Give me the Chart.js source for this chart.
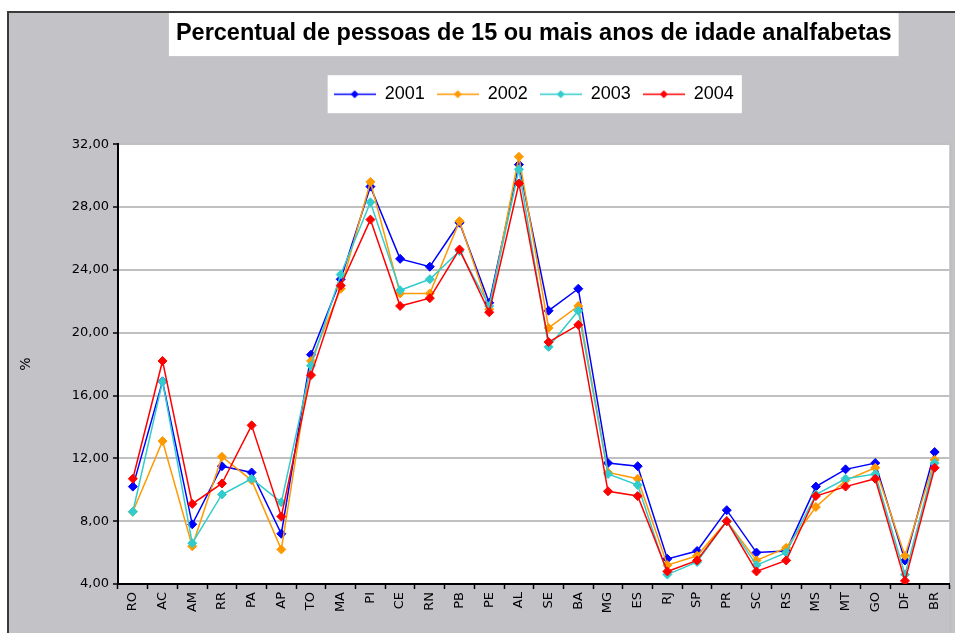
<!DOCTYPE html>
<html lang="pt">
<head>
    <meta charset="UTF-8">
    <title>Percentual de pessoas de 15 ou mais anos de idade analfabetas</title>
    <script src="https://cdn.jsdelivr.net/npm/chart.js"></script>
    <style>
        body { margin: 0; background: #fff; }
        canvas { display: block; }
    </style>
</head>
<body>
    <canvas id="grafico" width="955" height="633"></canvas>

    <script>
        // Dados
        const estados = ['RO','AC','AM','RR','PA','AP','TO','MA','PI','CE','RN','PB','PE','AL','SE','BA','MG','ES','RJ','SP','PR','SC','RS','MS','MT','GO','DF','BR'];
        const anos = ['2001', '2002', '2003', '2004'];
        const valores2001 = [10.2, 16.9, 7.8, 11.5, 11.1, 7.2, 18.6, 23.4, 29.3, 24.7, 24.2, 27.0, 21.9, 30.7, 21.4, 22.8, 11.7, 11.5, 5.6, 6.1, 8.7, 6.0, 6.1, 10.2, 11.3, 11.7, 5.5, 12.4];
        const valores2002 = [8.6, 13.1, 6.4, 12.1, 10.6, 6.2, 18.2, 22.8, 29.6, 22.5, 22.5, 27.1, 21.5, 31.2, 20.3, 21.7, 11.1, 10.7, 5.2, 5.8, 8.0, 5.5, 6.3, 8.9, 10.6, 11.4, 5.8, 11.9];
        const valores2003 = [8.6, 16.9, 6.6, 9.7, 10.7, 9.2, 17.9, 23.7, 28.3, 22.7, 23.4, 25.2, 21.7, 30.4, 19.1, 21.4, 11.0, 10.3, 4.6, 5.4, 8.0, 5.2, 6.0, 9.7, 10.7, 11.0, 4.6, 11.7];
        const valores2004 = [10.7, 18.2, 9.1, 10.4, 14.1, 8.3, 17.3, 23.0, 27.2, 21.7, 22.2, 25.3, 21.3, 29.5, 19.4, 20.5, 9.9, 9.6, 4.8, 5.5, 8.0, 4.8, 5.5, 9.6, 10.2, 10.7, 4.2, 11.4];
        const yMin = 4, yMax = 32, yPasso = 4;

        const series = [valores2001, valores2002, valores2003, valores2004];
        const cores = ['#0000ff', '#ff9900', '#33cccc', '#ff0000'];
        const fonteEixo = 'DejaVu Sans';

        // amostra da legenda: linha com losango
        function amostra(cor) {
            const c = document.createElement('canvas');
            c.width = 42; c.height = 11;
            const g = c.getContext('2d');
            g.strokeStyle = cor; g.lineWidth = 1.5;
            g.beginPath(); g.moveTo(0, 5.5); g.lineTo(42, 5.5); g.stroke();
            g.fillStyle = cor;
            g.beginPath(); g.moveTo(21, 1.5); g.lineTo(25, 5.5); g.lineTo(21, 9.5); g.lineTo(17, 5.5); g.closePath(); g.fill();
            return c;
        }

        // fundo cinza, caixas brancas do titulo e da legenda
        const moldura = {
            id: 'moldura',
            beforeDraw(chart) {
                const ctx = chart.ctx;
                const area = chart.chartArea;
                ctx.save();
                ctx.fillStyle = '#fff';
                ctx.fillRect(0, 0, chart.width, chart.height);
                ctx.fillStyle = '#c3c2c6';
                ctx.fillRect(8, 12, chart.width, chart.height);
                ctx.strokeStyle = '#3a3a3a';
                ctx.lineWidth = 2;
                ctx.beginPath();
                ctx.moveTo(8, chart.height); ctx.lineTo(8, 12); ctx.lineTo(chart.width, 12);
                ctx.stroke();

                // caixa do titulo
                const t = chart.titleBlock;
                const tf = chart.options.plugins.title.font;
                ctx.font = 'bold ' + tf.size + 'px ' + tf.family;
                const tw = ctx.measureText(chart.options.plugins.title.text).width;
                const cx = (t.left + t.right) / 2;
                const cy = t.top + chart.options.plugins.title.padding.top + tf.size * 0.6;
                ctx.fillStyle = '#fff';
                ctx.fillRect(cx - tw / 2 - 7, cy - 20, tw + 14, 43);

                // caixa da legenda
                const hb = chart.legend.legendHitBoxes;
                if (hb.length) {
                    const l = Math.min(...hb.map(h => h.left));
                    const r = Math.max(...hb.map(h => h.left + h.width));
                    const top = hb[0].top;
                    ctx.fillRect(l - 6, top - 10, r - l + 14, hb[0].height + 20);
                }

                // area do grafico
                ctx.fillRect(area.left, area.top, area.right - area.left, area.bottom - area.top);
                ctx.strokeStyle = '#bdbdbd';
                ctx.lineWidth = 2;
                ctx.beginPath(); ctx.moveTo(area.right + 1, area.top); ctx.lineTo(area.right + 1, chart.height); ctx.stroke();
                ctx.restore();
            }
        };

        const ctx = document.getElementById('grafico').getContext('2d');
        new Chart(ctx, {
            type: 'line',
            data: {
                labels: estados,
                datasets: anos.map((ano, i) => ({
                    label: ano,
                    data: series[i],
                    borderColor: cores[i],
                    backgroundColor: cores[i],
                    borderWidth: 1.5,
                    pointStyle: 'rectRot',
                    pointRadius: 4.5,
                    pointBorderWidth: 1,
                    tension: 0,
                    order: anos.length - i
                }))
            },
            options: {
                responsive: false,
                animation: false,
                layout: { padding: { left: 10, top: 12, right: 3, bottom: 0 } },
                plugins: {
                    title: {
                        display: true,
                        fullSize: false,
                        text: 'Percentual de pessoas de 15 ou mais anos de idade analfabetas',
                        color: '#000',
                        font: { family: 'Liberation Sans', size: 23.5, weight: 'bold' },
                        padding: { top: 7, bottom: 26 }
                    },
                    legend: {
                        display: true,
                        fullSize: false,
                        labels: {
                            color: '#000',
                            font: { family: 'Liberation Sans', size: 18 },
                            usePointStyle: true,
                            pointStyleWidth: 42,
                            padding: 12,
                            generateLabels(chart) {
                                return chart.data.datasets.map((ds, i) => ({
                                    text: ds.label,
                                    datasetIndex: i,
                                    pointStyle: amostra(ds.borderColor),
                                    fillStyle: ds.borderColor,
                                    strokeStyle: ds.borderColor,
                                    lineWidth: 0,
                                    fontColor: '#000'
                                }));
                            }
                        }
                    },
                    subtitle: {
                        display: true,
                        fullSize: false,
                        text: '',
                        weight: 500,
                        font: { size: 1, lineHeight: 1 },
                        padding: { top: 0, bottom: 30 }
                    },
                    tooltip: { enabled: false }
                },
                scales: {
                    x: {
                        offset: true,
                        afterFit(scale) { scale.height = 49; },
                        border: { color: '#000', width: 2 },
                        grid: { offset: true, drawOnChartArea: false, tickColor: '#000', tickLength: 5, tickWidth: 1.5 },
                        ticks: {
                            color: '#000',
                            font: { family: fonteEixo, size: 13 },
                            minRotation: 90,
                            maxRotation: 90,
                            autoSkip: false,
                            padding: 3
                        }
                    },
                    y: {
                        min: yMin,
                        max: yMax,
                        afterFit(scale) { scale.width = 108; },
                        border: { color: '#000', width: 2 },
                        grid: { color: '#c0c0c0', lineWidth: 2, tickColor: '#000', tickLength: 5, tickWidth: 1.5 },
                        ticks: {
                            stepSize: yPasso,
                            color: '#000',
                            font: { family: fonteEixo, size: 13 },
                            padding: 4,
                            callback: v => v.toFixed(2).replace('.', ',')
                        },
                        title: {
                            display: true,
                            text: '%',
                            color: '#000',
                            font: { family: fonteEixo, size: 14 },
                            padding: { top: 8, bottom: 0 }
                        }
                    }
                }
            },
            plugins: [moldura]
        });
    </script>
</body>
</html>
